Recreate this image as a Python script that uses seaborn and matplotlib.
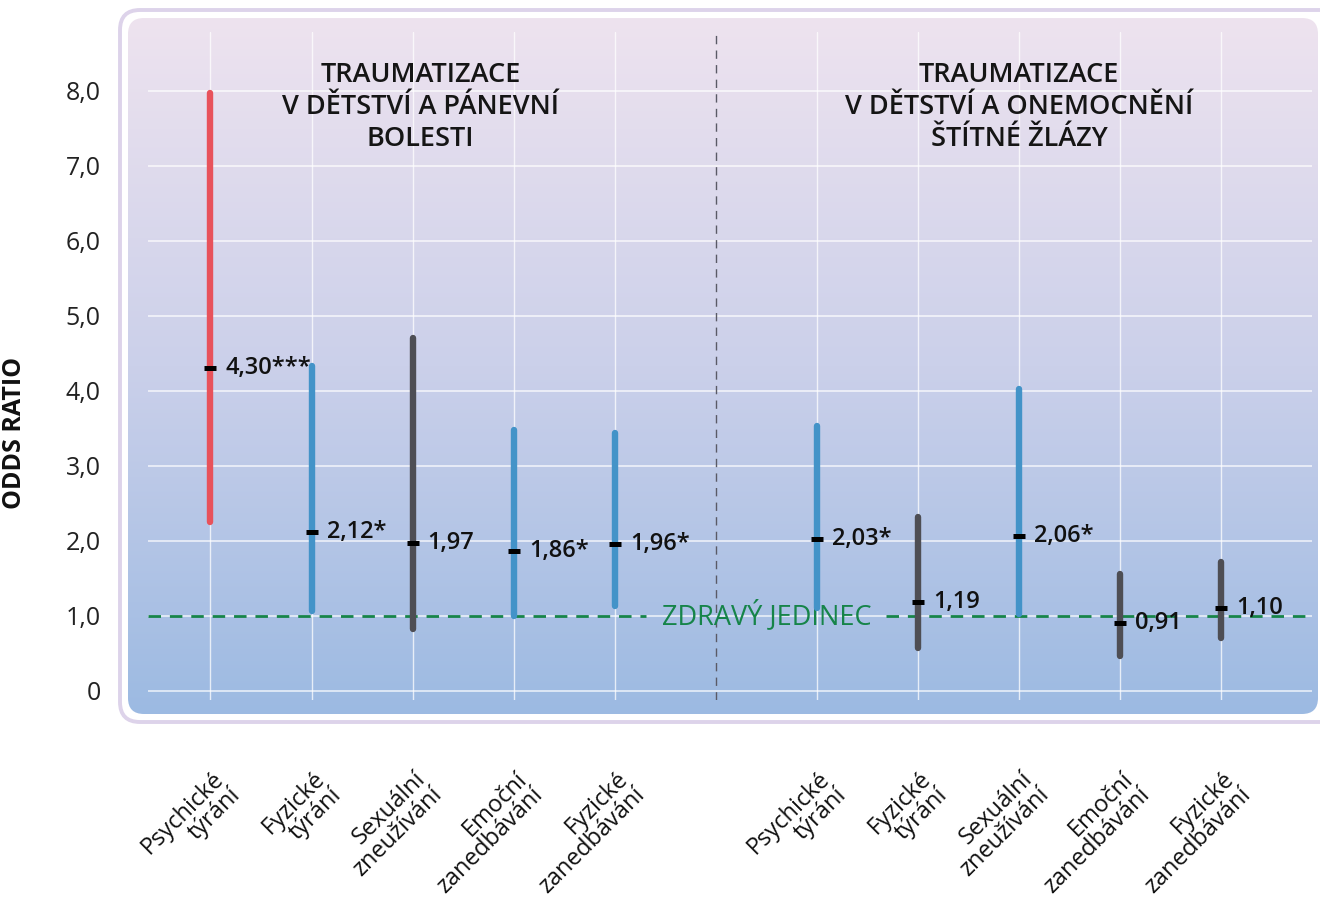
import numpy as np
import pandas as pd
import matplotlib
matplotlib.use("Agg")
import matplotlib.pyplot as plt
from matplotlib.patches import FancyBboxPatch
from matplotlib.transforms import ScaledTranslation
import seaborn as sns

# ---------------- data ----------------
exposures = ["Psychické\ntýrání", "Fyzické\ntýrání", "Sexuální\nzneužívání",
             "Emoční\nzanedbávání", "Fyzické\nzanedbávání"]
panel_titles = ["TRAUMATIZACE\nV DĚTSTVÍ A PÁNEVNÍ\nBOLESTI",
                "TRAUMATIZACE\nV DĚTSTVÍ A ONEMOCNĚNÍ\nŠTÍTNÉ ŽLÁZY"]

pelvic_or = [4.30, 2.12, 1.97, 1.86, 1.96]
pelvic_low = [2.25, 1.06, 0.83, 1.00, 1.13]
pelvic_high = [7.97, 4.33, 4.70, 3.48, 3.44]
pelvic_sig = ["***", "*", "", "*", "*"]

thyroid_or = [2.03, 1.19, 2.06, 0.91, 1.10]
thyroid_low = [1.10, 0.57, 1.02, 0.47, 0.71]
thyroid_high = [3.53, 2.32, 4.03, 1.56, 1.72]
thyroid_sig = ["*", "", "*", "", ""]

y_ticks = [0, 1, 2, 3, 4, 5, 6, 7, 8]
y_tick_labels = ["0", "1,0", "2,0", "3,0", "4,0", "5,0", "6,0", "7,0", "8,0"]
reference_value = 1.0
reference_label = "ZDRAVÝ JEDINEC"
y_label = "ODDS RATIO"

sig_palette = {"***": "#e8525b", "*": "#4393c8", "": "#4e4e54"}

# ---------------- frame ----------------
rows = []
for panel, (ors, lows, highs, sigs) in enumerate(
        [(pelvic_or, pelvic_low, pelvic_high, pelvic_sig),
         (thyroid_or, thyroid_low, thyroid_high, thyroid_sig)]):
    for i, name in enumerate(exposures):
        rows.append(dict(panel=panel, exposure=name, pos=i + panel * 6,
                         odds=ors[i], low=lows[i], high=highs[i], sig=sigs[i]))
df = pd.DataFrame(rows)
long_df = df.melt(id_vars=["pos", "sig"], value_vars=["low", "high"],
                  var_name="bound", value_name="value")

# ---------------- figure ----------------
sns.set_theme(style="white")
plt.rcParams["font.family"] = ["Open Sans", "DejaVu Sans"]

W, H = 13.2, 9.05
fig = plt.figure(figsize=(W, H), dpi=100)

def px(x0, y0, x1, y1):
    return [x0 / 1320, 1 - y1 / 905, (x1 - x0) / 1320, (y1 - y0) / 905]

# outer rounded border
outer = FancyBboxPatch((1.20, (905 - 722) / 100), 12.4, (722 - 10) / 100,
                       boxstyle="round,pad=0,rounding_size=0.2",
                       transform=fig.dpi_scale_trans, facecolor="white",
                       edgecolor="#ddd3ea", linewidth=2.8, zorder=-3)
fig.add_artist(outer)

# gradient panel
bg = fig.add_axes(px(128, 18, 1318, 714), zorder=-1)
bg.set_axis_off()
stops = np.array([[0xee, 0xe3, 0xef], [0xcb, 0xd0, 0xea], [0x9c, 0xba, 0xe2]]) / 255
t = np.linspace(0, 1, 256)
grad = np.stack([np.interp(t, [0, 0.5, 1], stops[:, c]) for c in range(3)], axis=-1)
grad = grad[:, None, :]
im = bg.imshow(grad, extent=(0, 1, 0, 1), aspect="auto", origin="upper")
clip = FancyBboxPatch((1.28, (905 - 714) / 100), 11.90, (714 - 18) / 100,
                      boxstyle="round,pad=0,rounding_size=0.16",
                      transform=fig.dpi_scale_trans, facecolor="none",
                      edgecolor="none")
im.set_clip_path(clip)

ax = fig.add_axes(px(148, 32, 1312, 700), zorder=1)
ax.set_facecolor("none")
for s in ax.spines.values():
    s.set_visible(False)

ax.set_xlim(-0.618, 10.90)
ax.set_ylim(-0.12, 8.78)

# grid
positions = df["pos"].tolist()
for p in positions:
    ax.axvline(p, color="white", lw=1.0, alpha=0.75, zorder=0)
for yv in y_ticks:
    ax.axhline(yv, color="white", lw=1.2, alpha=0.75, zorder=0)
ax.axvline(5, color="#5a5a66", lw=1.0, ls=(0, (6, 4.5)), zorder=1)

# reference line (interrupted around its label)
green = "#168449"
ax.hlines(reference_value, -0.618, 4.31, color=green, lw=2.0,
          linestyles=(0, (4.5, 3.2)), zorder=2)
ax.hlines(reference_value, 6.68, 10.90, color=green, lw=2.0,
          linestyles=(0, (4.5, 3.2)), zorder=2)
ax.text(5.5, reference_value, reference_label, color=green, fontsize=19.5,
        ha="center", va="center", zorder=3)

# confidence intervals
sns.lineplot(data=long_df, x="pos", y="value", units="pos", estimator=None,
             hue="sig", palette=sig_palette, sort=False, lw=4.6,
             solid_capstyle="round", legend=False, ax=ax, zorder=4)

# point estimates
sns.scatterplot(data=df, x="pos", y="odds", marker="_", s=64, color="black",
                linewidth=3.6, legend=False, ax=ax, zorder=5)

for _, r in df.iterrows():
    txt = f"{r.odds:.2f}".replace(".", ",") + r.sig
    ax.text(r.pos + 0.15, r.odds, txt, ha="left", va="center",
            fontsize=17, fontweight="semibold", color="#111111", zorder=6)

# panel titles
for panel, xc in zip([0, 1], [2.08, 8.0]):
    ax.text(xc, 7.78, panel_titles[panel], ha="center", va="center",
            fontsize=19.5, fontweight="semibold", color="#151515",
            linespacing=1.2, zorder=6)

# axes ticks
ax.set_yticks(y_ticks, y_tick_labels)
ax.tick_params(axis="y", length=0, pad=34, labelsize=18, labelcolor="#222222")

ax.set_xticks(positions, df["exposure"].tolist())
ax.tick_params(axis="x", length=0, pad=60, labelsize=17, labelcolor="#111111")
offset = ScaledTranslation(0.18, 0, fig.dpi_scale_trans)
for lab in ax.get_xticklabels():
    lab.set_rotation(45)
    lab.set_ha("right")
    lab.set_va("center")
    lab.set_rotation_mode("anchor")
    lab.set_linespacing(0.95)
    lab.set_transform(lab.get_transform() + offset)

ax.set_xlabel("")
ax.set_ylabel(y_label, fontsize=18, fontweight="bold", color="#111111",
              labelpad=0)
ax.yaxis.set_label_coords(-0.104, 0.40)

fig.savefig("out.png", dpi=100)
